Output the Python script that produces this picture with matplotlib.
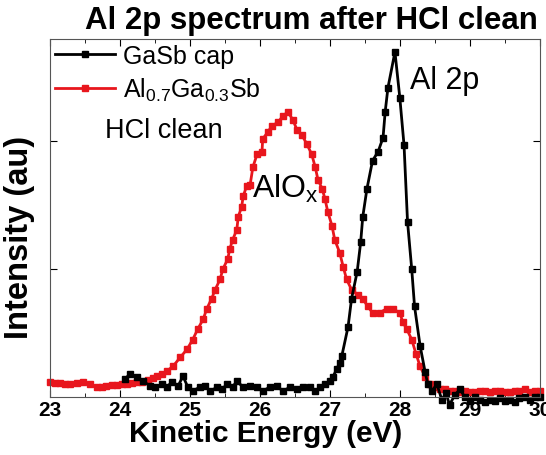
import matplotlib
matplotlib.use("Agg")
import matplotlib.pyplot as plt

plt.rcParams['font.family'] = ['Liberation Sans', 'DejaVu Sans']
plt.rcParams['mathtext.fontset'] = 'custom'
plt.rcParams['mathtext.rm'] = 'Liberation Sans'

# GaSb cap (black)
gasb_x = [24.07, 24.14, 24.24, 24.33, 24.43, 24.50, 24.60, 24.67, 24.74, 24.83,
          24.90, 24.97, 25.04, 25.14, 25.21, 25.29, 25.39, 25.46, 25.53, 25.61,
          25.67, 25.76, 25.86, 25.96, 26.04, 26.14, 26.24, 26.33, 26.43, 26.53,
          26.61, 26.71, 26.79, 26.86, 26.93, 27.00, 27.04, 27.10, 27.14, 27.17,
          27.26, 27.31, 27.39, 27.44, 27.47, 27.53, 27.61, 27.69, 27.76, 27.79,
          27.83, 27.93, 28.00, 28.06, 28.11, 28.17, 28.21, 28.29, 28.36, 28.40,
          28.46, 28.53, 28.60, 28.66, 28.71, 28.79, 28.86, 28.93, 29.00, 29.07,
          29.14, 29.21, 29.29, 29.36, 29.43, 29.50, 29.57, 29.64, 29.71, 29.79,
          29.86, 29.93, 30.00]
gasb_y = [0.14, 0.18, 0.16, 0.125, 0.086, 0.078, 0.10, 0.078, 0.117, 0.086,
          0.164, 0.078, 0.047, 0.078, 0.086, 0.047, 0.078, 0.063, 0.10, 0.078,
          0.125, 0.078, 0.086, 0.078, 0.047, 0.078, 0.086, 0.047, 0.078, 0.063,
          0.078, 0.078, 0.047, 0.078, 0.10, 0.125, 0.156, 0.22, 0.27, 0.32,
          0.55, 0.77, 0.98, 1.21, 1.41, 1.63, 1.85, 1.92, 2.03, 2.23,
          2.42, 2.70, 2.34, 1.97, 1.37, 1.00, 0.71, 0.40, 0.20, 0.10,
          0.05, 0.10, -0.02, 0.03, -0.06, 0.02, 0.06, 0.0, -0.03, 0.0,
          -0.02, -0.04, -0.02, -0.03, -0.01, -0.03, -0.02, -0.04, -0.01, 0.0,
          -0.02, 0.0, 0.0]

# Al0.7Ga0.3Sb (red)
alga_x = [23.00, 23.07, 23.14, 23.21, 23.29, 23.38, 23.47, 23.57, 23.67, 23.74,
          23.80, 23.88, 23.96, 24.03, 24.10, 24.17, 24.24, 24.32, 24.40, 24.47,
          24.53, 24.60, 24.67, 24.76, 24.86, 24.96, 25.04, 25.11, 25.19, 25.24,
          25.31, 25.36, 25.43, 25.47, 25.54, 25.57, 25.61, 25.67, 25.69, 25.74,
          25.76, 25.81, 25.86, 25.90, 25.96, 26.03, 26.04, 26.11, 26.17, 26.26,
          26.33, 26.40, 26.47, 26.53, 26.60, 26.67, 26.74, 26.79, 26.83, 26.89,
          26.93, 26.97, 27.03, 27.07, 27.14, 27.19, 27.24, 27.31, 27.40, 27.47,
          27.54, 27.61, 27.71, 27.81, 27.90, 28.00, 28.04, 28.10, 28.17, 28.23,
          28.29, 28.36, 28.43, 28.50, 28.57, 28.64, 28.71, 28.79, 28.86, 28.93,
          29.00, 29.07, 29.14, 29.21, 29.29, 29.36, 29.43, 29.50, 29.57, 29.64,
          29.71, 29.79, 29.86, 29.93, 30.00]
alga_y = [0.117, 0.11, 0.11, 0.10, 0.10, 0.11, 0.117, 0.10, 0.078, 0.075,
          0.09, 0.094, 0.094, 0.10, 0.10, 0.11, 0.117, 0.12, 0.13, 0.15,
          0.164, 0.18, 0.203, 0.242, 0.31, 0.375, 0.45, 0.53, 0.61, 0.69,
          0.77, 0.84, 0.92, 1.00, 1.08, 1.16, 1.23, 1.31, 1.41, 1.49,
          1.57, 1.65, 1.66, 1.80, 1.90, 1.92, 2.02, 2.07, 2.12, 2.15,
          2.20, 2.23, 2.17, 2.09, 2.05, 1.98, 1.90, 1.80, 1.70, 1.63,
          1.55, 1.45, 1.34, 1.23, 1.13, 1.02, 0.92, 0.84, 0.80, 0.77,
          0.71, 0.66, 0.66, 0.69, 0.69, 0.66, 0.59, 0.53, 0.45, 0.34,
          0.24, 0.16, 0.10, 0.08, 0.06, 0.06, 0.05, 0.05, 0.04, 0.05,
          0.04, 0.04, 0.05, 0.05, 0.04, 0.05, 0.05, 0.04, 0.04, 0.05,
          0.05, 0.06, 0.04, 0.05, 0.05]

red = '#e8161d'

fig = plt.figure(figsize=(5.46, 4.56), dpi=100)
ax = fig.add_axes([0.0916, 0.127, 0.897, 0.785])

ax.plot(alga_x, alga_y, '-s', color=red, lw=2, ms=5, mec=red, clip_on=False,
        label='Al$_{0.7}$Ga$_{0.3}$Sb')
ax.plot(gasb_x, gasb_y, '-s', color='black', lw=2, ms=5, clip_on=False,
        label='GaSb cap')

ax.set_xlim(23, 30)
ax.set_ylim(0, 2.8)
ax.set_xticks(range(23, 31))
ax.set_xticks([23.5 + i for i in range(7)], minor=True)
ax.set_yticks([1, 2])
ax.set_yticklabels([])
ax.tick_params(which='both', direction='in', top=True, right=True)
ax.tick_params(which='major', length=5, labelsize=15, pad=2)
ax.tick_params(which='minor', length=3, top=True)
for lbl in ax.get_xticklabels():
    lbl.set_fontweight('bold')
for s in ax.spines.values():
    s.set_color('#555555')

ax.set_xlabel('Kinetic Energy (eV)', fontsize=21.5, fontweight='bold')
ax.xaxis.set_label_coords(0.44, -0.06)
ax.set_ylabel('Intensity (au)', fontsize=23.5, fontweight='bold')
ax.yaxis.set_label_coords(-0.03, 0.45)
fig.text(0.571, 0.955, 'Al 2p spectrum after HCl clean', fontsize=22.5,
         fontweight='bold', ha='center', va='center')

handles, labels = ax.get_legend_handles_labels()
ax.legend(handles[::-1], labels[::-1], loc='upper left', frameon=False,
          fontsize=18, handlelength=2.4, borderaxespad=0.1, borderpad=0.1,
          handletextpad=0.3, labelspacing=0.3)

ax.text(28.14, 2.48, 'Al 2p', fontsize=22, ha='left', va='center')
ax.text(23.78, 2.09, 'HCl clean', fontsize=19.5, ha='left', va='center')
ax.text(25.89, 1.64, 'AlO$_{\\mathrm{x}}$', fontsize=23, ha='left', va='center')

plt.savefig('out.png', dpi=100)
